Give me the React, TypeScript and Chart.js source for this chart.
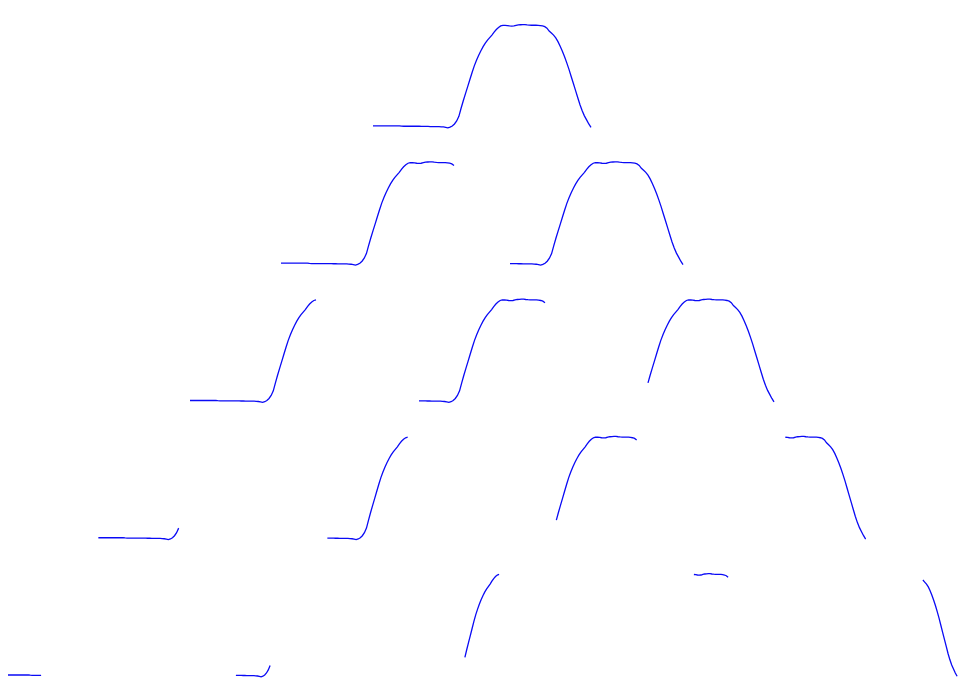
import { useEffect, useRef } from "react";
import Chart from "chart.js/auto";

// Full trace, 100 samples
const signal = [
  0.0, 0.0, 0.0, 0.0, 0.0, 0.0, 0.0, 0.0, 0.0, 0.0,
  0.0, 0.0, 0.0, -0.002, -0.003, -0.003, -0.003, -0.003, -0.003, -0.003,
  -0.003, -0.003, -0.004, -0.004, -0.005, -0.005, -0.006, -0.006, -0.007, -0.007,
  -0.007, -0.008, -0.01, -0.014, -0.018, -0.012, 0.0, 0.02, 0.05, 0.095,
  0.175, 0.25, 0.32, 0.39, 0.46, 0.53, 0.595, 0.65, 0.7, 0.745,
  0.785, 0.82, 0.85, 0.875, 0.9, 0.93, 0.955, 0.975, 0.99, 0.995,
  0.995, 0.993, 0.99, 0.988, 0.99, 0.995, 1.0, 1.002, 1.003, 1.003,
  1.0, 0.998, 0.997, 0.997, 0.997, 0.996, 0.994, 0.99, 0.983, 0.968,
  0.94, 0.92, 0.9, 0.872, 0.835, 0.79, 0.74, 0.685, 0.625, 0.56,
  0.49, 0.42, 0.35, 0.28, 0.21, 0.15, 0.1, 0.06, 0.02, -0.013,
];

// Window length for each row of the pyramid, and the shift between windows
const windowLengths = [100, 80, 60, 40, 20];
const windowStep = 20;

// layout: drawn width of one window per row (px), column pitch, row spacing
const ROW_WIDTHS = [218, 173, 126, 80.3, 34.2];
const PITCH = 229;
const CENTER = 474; // px from canvas left
const CANVAS_W = 960;
const ROW_GAP = 1.359;

function buildChartConfig() {
  const datasets: any[] = [];
  const scales: any = {
    y: { type: "linear", display: false, min: -5.545, max: 1.168 },
  };
  windowLengths.forEach((len, row) => {
    const pxPerSample = ROW_WIDTHS[row] / (len - 1);
    const id = "x" + row;
    scales[id] = {
      type: "linear",
      axis: "x",
      position: "bottom",
      display: false,
      min: -CENTER / pxPerSample,
      max: (CANVAS_W - CENTER) / pxPerSample,
    };
    const cell = PITCH / pxPerSample;
    for (let j = 0; j <= row; j++) {
      const start = j * windowStep;
      const x0 = (j - row / 2) * cell - (len - 1) / 2;
      datasets.push({
        xAxisID: id,
        yAxisID: "y",
        data: signal.slice(start, start + len).map((v, t) => ({
          x: x0 + t,
          y: v - row * ROW_GAP,
        })),
        borderColor: "#0a0af5",
        borderWidth: 1.3,
        pointRadius: 0,
        tension: 0,
        fill: false,
      });
    }
  });
  return { datasets, scales };
}

export default function App() {
  const canvasRef = useRef<HTMLCanvasElement>(null);

  useEffect(() => {
    if (!canvasRef.current) return;
    const { datasets, scales } = buildChartConfig();
    const chart = new Chart(canvasRef.current, {
      type: "line",
      data: { datasets },
      options: {
        animation: false,
        responsive: true,
        maintainAspectRatio: false,
        layout: { padding: 0 },
        plugins: { legend: { display: false }, tooltip: { enabled: false } },
        scales,
      },
    });
    return () => chart.destroy();
  }, []);

  return (
    <div style={{ width: 960, height: 678, position: "relative" }}>
      <canvas ref={canvasRef} />
    </div>
  );
}
